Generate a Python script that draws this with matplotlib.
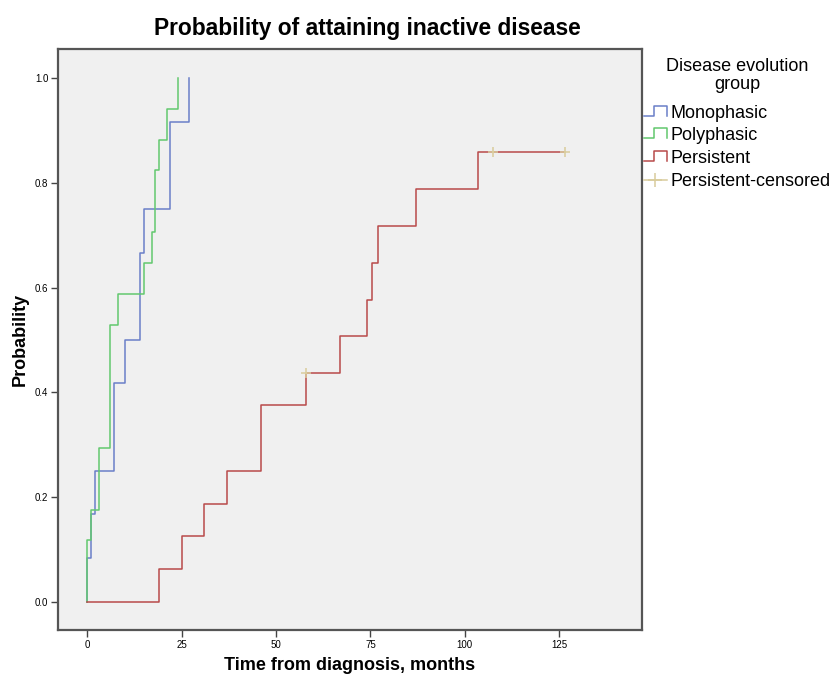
import matplotlib
matplotlib.use("Agg")
import matplotlib.pyplot as plt
from matplotlib.lines import Line2D
from matplotlib.legend_handler import HandlerBase

plt.rcParams['font.family'] = ['Liberation Sans', 'DejaVu Sans']

# ---- data (months, cumulative probability) ----
mono_t = [0, 0, 1, 2, 7, 10, 14, 15, 22, 27]
mono_p = [0, 0.083, 0.167, 0.250, 0.417, 0.500, 0.667, 0.750, 0.917, 1.000]

poly_t = [0, 0, 1, 3, 6, 8, 15, 17, 18, 19, 21, 24]
poly_p = [0, 0.118, 0.176, 0.294, 0.529, 0.588, 0.647, 0.706, 0.824, 0.882, 0.941, 1.000]

pers_t = [0, 19, 25, 31, 37, 46, 58, 67, 74, 75.5, 77, 87, 103.5, 126.5]
pers_p = [0, 0.0625, 0.125, 0.1875, 0.250, 0.375, 0.4375, 0.507, 0.577, 0.648, 0.718, 0.789, 0.859, 0.859]

cens_t = [58, 107.5, 126.5]
cens_p = [0.4375, 0.859, 0.859]

labels = ['Monophasic', 'Polyphasic', 'Persistent', 'Persistent-censored']
colors = ['#6a7fc8', '#62c86e', '#b84a4a', '#d9cc9c']

xticks = [0, 25, 50, 75, 100, 125]
yticks = [0.0, 0.2, 0.4, 0.6, 0.8, 1.0]

fig = plt.figure(figsize=(8.3, 6.75), dpi=100)
ax = fig.add_axes([58/830, 1-630/675, (642-58)/830, (630-49)/675])
ax.set_facecolor('#f0f0f0')

ax.plot(mono_t, mono_p, drawstyle='steps-post', color=colors[0], lw=1.1)
ax.plot(poly_t, poly_p, drawstyle='steps-post', color=colors[1], lw=1.1)
ax.plot(pers_t, pers_p, drawstyle='steps-post', color=colors[2], lw=1.1)
ax.plot(cens_t, cens_p, ls='none', marker='+', ms=7, mew=1.1, color=colors[3])

ax.set_xlim(-7.8, 147)
ax.set_ylim(-0.054, 1.056)
ax.set_xticks(xticks)
ax.set_xticklabels([str(v) for v in xticks])
ax.set_yticks(yticks)
ax.set_yticklabels([f'{v:.1f}' for v in yticks])
ax.tick_params(direction='out', length=5, width=1, color='#444444', labelsize=7, pad=2)
for s in ax.spines.values():
    s.set_color('#555555')
    s.set_linewidth(1.6)

ax.set_xlabel('Time from diagnosis, months', fontsize=13, fontweight='bold', labelpad=5)
ax.set_ylabel('Probability', fontsize=13, fontweight='bold', labelpad=4)
fig.text(367/830, 1-28/675, 'Probability of attaining inactive disease',
         fontsize=16.4, fontweight='bold', ha='center', va='center')


class StepHandler(HandlerBase):
    def create_artists(self, legend, orig_handle, xdescent, ydescent, width, height, fontsize, trans):
        x0, y0 = -xdescent, -ydescent
        lo, hi = y0 + 0.15*height, y0 + 0.95*height
        xs = [x0, x0+0.45*width, x0+0.45*width, x0+width, x0+width]
        ys = [lo, lo, hi, hi, lo]
        ln = Line2D(xs, ys, color=orig_handle.get_color(), lw=1.1, transform=trans)
        return [ln]


class CensHandler(HandlerBase):
    def create_artists(self, legend, orig_handle, xdescent, ydescent, width, height, fontsize, trans):
        x0, y0 = -xdescent, -ydescent
        ym = y0 + 0.5*height
        ln = Line2D([x0, x0+width], [ym, ym], color=orig_handle.get_color(), lw=1.1, transform=trans)
        mk = Line2D([x0+0.5*width], [ym], marker='+', ms=10, mew=1.1, ls='none',
                    color=orig_handle.get_color(), transform=trans)
        return [ln, mk]


fig.text(737/830, 1-58/675, 'Disease evolution\ngroup', fontsize=13, ha='center', va='top',
         multialignment='center', linespacing=1.1)

h = [Line2D([], [], color=c) for c in colors]
hm = {h[0]: StepHandler(), h[1]: StepHandler(), h[2]: StepHandler(), h[3]: CensHandler()}
leg = fig.legend(h, labels, handler_map=hm,
                 loc='upper left', bbox_to_anchor=(640/830, 1-101/675), frameon=False,
                 fontsize=13, handlelength=1.3, handletextpad=0.2,
                 labelspacing=0.32, borderpad=0.2, borderaxespad=0)

fig.savefig('out.png', dpi=100, facecolor='white')
